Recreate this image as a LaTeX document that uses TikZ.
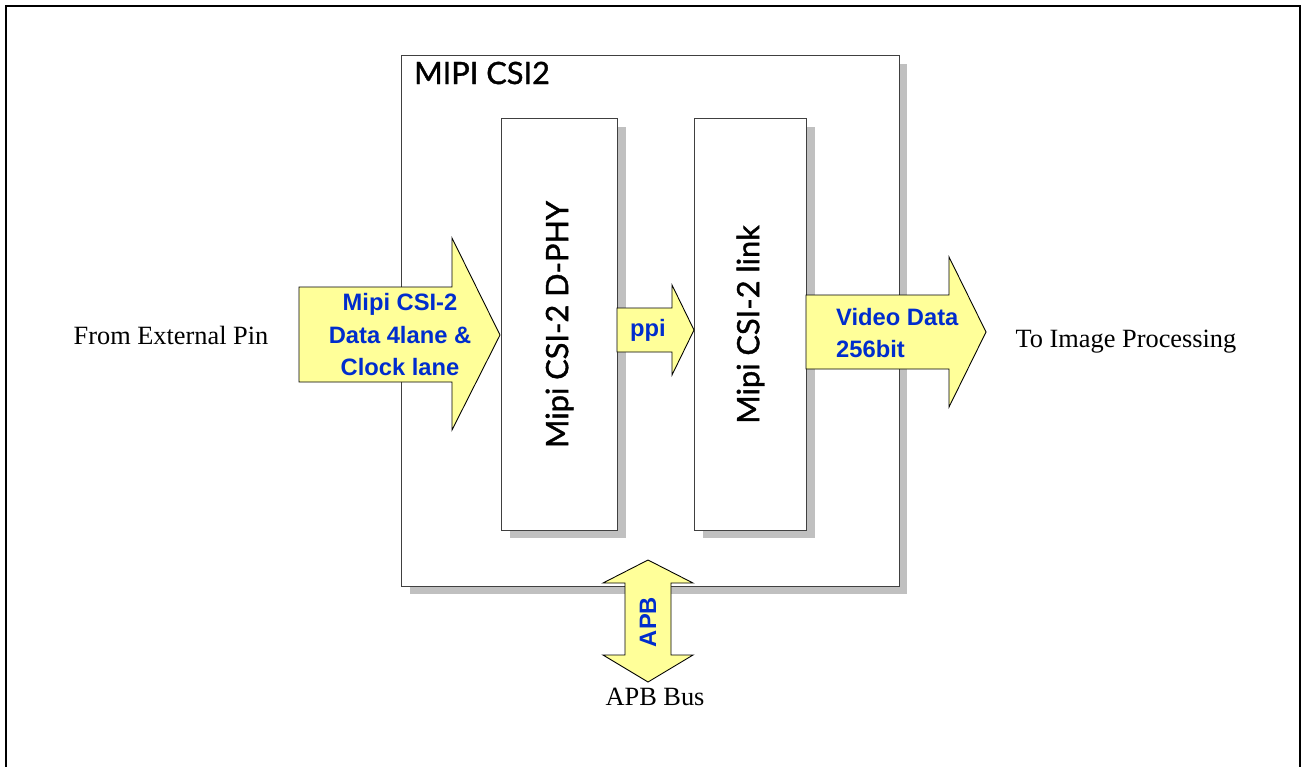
\documentclass[tikz,border=0pt]{standalone}
\usepackage{fontspec}
\setmainfont{Liberation Serif}
\newfontfamily\blockfont[FakeBold=1.2]{Lato}
\newfontfamily\busfont{Liberation Sans}
\usetikzlibrary{positioning,calc,shadows}
\definecolor{arrowyellow}{RGB}{255,255,153}
\definecolor{labelblue}{RGB}{0,45,205}
\definecolor{shadowgray}{RGB}{192,192,192}

\begin{document}
\begin{tikzpicture}[
    x=0.02cm, y=-0.02cm,
    box/.style={rectangle, draw=black!75, fill=white, line width=0.6pt, inner sep=0pt, anchor=north west,
        drop shadow={shadow xshift=0.16cm, shadow yshift=-0.16cm, fill=shadowgray, opacity=1}},
    bigarrow/.style={draw=black, fill=arrowyellow, line width=0.5pt, line join=miter},
    buslabel/.style={font=\busfont\bfseries\fontsize{13.5}{18.5}\selectfont, text=labelblue, align=center},
    blocklabel/.style={font=\blockfont\fontsize{17.5}{20}\selectfont, rotate=90},
    pinlabel/.style={font=\fontsize{15}{18}\selectfont}
]
\useasboundingbox (0,0) rectangle (1301,767);

% ============ OUTER FRAME ============
\draw[line width=1.7pt] (6,767) -- (6,6) -- (1300,6) -- (1300,767);

% ============ MIPI CSI2 BLOCK ============
\node[box, minimum width=9.96cm, minimum height=10.62cm] (csi) at (401,55) {};
\node[font=\blockfont\fontsize{17.5}{20}\selectfont] (csi_title) at (482,73) {MIPI CSI2};

% Sub blocks
\node[box, minimum width=2.32cm, minimum height=8.24cm] (dphy) at (501,118) {};
\node[box, minimum width=2.24cm, minimum height=8.24cm] (link) at (694,118) {};
\node[blocklabel] (dphy_label) at (dphy.center) {Mipi CSI-2 D-PHY};
\node[blocklabel] (link_label) at (link.center) {Mipi CSI-2 link};

% ============ DATA ARROWS ============
% Input lanes
\draw[bigarrow] (299,287) -- (452,287) -- (452,238) -- (500,335) -- (452,430) -- (452,382) -- (299,382) -- cycle;
\node[buslabel] (in_text) at (400,335) {Mipi CSI-2\\Data 4lane \&\\Clock lane};

% PPI
\draw[bigarrow] (617,308) -- (672,308) -- (672,285) -- (694,330) -- (672,375) -- (672,352) -- (617,352) -- cycle;
\node[buslabel] (ppi_text) at (648,330) {ppi};

% Video output
\draw[bigarrow] (806,295) -- (949,295) -- (949,257) -- (986,332) -- (949,407) -- (949,369) -- (806,369) -- cycle;
\node[buslabel, align=left, anchor=west] (video_text) at (830,333) {Video Data\\256bit};

% APB (both ways)
\draw[bigarrow] (648,560) -- (693,583) -- (671,583) -- (671,655) -- (693,655) -- (648,682)
    -- (603,655) -- (625,655) -- (625,583) -- (603,583) -- cycle;
\node[buslabel, rotate=90] (apb_text) at (648,622) {APB};

% ============ OUTSIDE LABELS ============
\node[pinlabel] (ext_pin) at (171,335) {From External Pin};
\node[pinlabel] (img_proc) at (1126,342) {To Image Processing};
\node[pinlabel] (apb_bus) at (655,697) {APB Bus};

\end{tikzpicture}
\end{document}
